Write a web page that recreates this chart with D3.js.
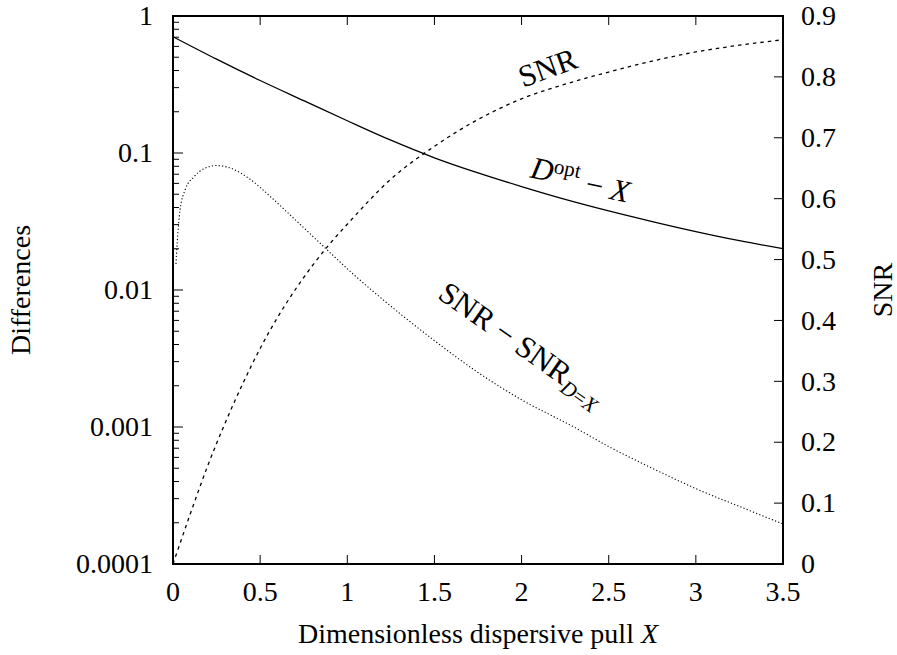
<!DOCTYPE html>
<html>
<head>
<meta charset="utf-8">
<script src="https://cdn.jsdelivr.net/npm/d3@7"></script>
<style>
  body { margin: 0; background: #fff; }
  svg text { font-family: "Liberation Serif", "DejaVu Serif", serif; fill: #000; }
</style>
</head>
<body>
<svg id="chart" width="897" height="655"></svg>
<script>
// x axis
var xTicks = [0, 0.5, 1, 1.5, 2, 2.5, 3, 3.5]
// left axis (log) and right axis (linear)
var yTicks = [1, 0.1, 0.01, 0.001, 0.0001]
var yTickLabels = ['1', '0.1', '0.01', '0.001', '0.0001']
var y2Ticks = [0, 0.1, 0.2, 0.3, 0.4, 0.5, 0.6, 0.7, 0.8, 0.9]

// D^opt - X  (left axis)
var doptX = [0, 0.25, 0.5, 0.75, 1, 1.25, 1.5, 1.75, 2, 2.25, 2.5, 2.75, 3, 3.25, 3.5]
var doptY = [0.706, 0.484, 0.338, 0.241, 0.172, 0.124, 0.0923, 0.0716, 0.0569, 0.0459, 0.0378, 0.0316, 0.0267, 0.0229, 0.0200]

// SNR - SNR_{D=X}  (left axis)
var diffX = [0.017, 0.025, 0.04, 0.07, 0.12, 0.18, 0.25, 0.33, 0.44, 0.56, 0.67, 0.85, 1.0, 1.3, 1.5, 1.75, 2.0, 2.3, 2.5, 2.75, 3.0, 3.25, 3.5]
var diffY = [0.0155, 0.023, 0.038, 0.054, 0.067, 0.077, 0.081, 0.0776, 0.0646, 0.0479, 0.0355, 0.0216, 0.0143, 0.00676, 0.00427, 0.0025, 0.00158, 0.0010, 0.00072, 0.0005, 0.000355, 0.000263, 0.000196]

// SNR  (right axis)
var snrX = [0, 0.1, 0.2, 0.3, 0.4, 0.5, 0.6, 0.7, 0.8, 0.9, 1.0, 1.25, 1.5, 1.75, 2.0, 2.25, 2.5, 2.75, 3.0, 3.25, 3.5]
var snrY = [0, 0.083, 0.162, 0.232, 0.296, 0.354, 0.405, 0.45, 0.49, 0.526, 0.558, 0.632, 0.686, 0.73, 0.764, 0.788, 0.808, 0.826, 0.841, 0.852, 0.861]

var svg = d3.select('#chart'),
  mLeft = 173, mTop = 16, width = 610, height = 548,
  g = svg.append('g').attr('transform', 'translate(' + mLeft + ',' + mTop + ')')

var x = d3.scaleLinear().domain([0, 3.5]).range([0, width])
var y = d3.scaleLog().domain([0.0001, 1]).range([height, 0])
var y2 = d3.scaleLinear().domain([0, 0.9]).range([height, 0])

var fontSize = 28

// minor log ticks
var minor = []
yTicks.slice(1).forEach(function (t) {
  for (var k = 2; k <= 9; k++) minor.push(t * k)
})

g.selectAll('.minor').data(minor).enter().append('line')
  .attr('x1', 0).attr('x2', 6)
  .attr('y1', function (d) { return y(d) }).attr('y2', function (d) { return y(d) })
  .attr('stroke', '#000').attr('stroke-width', 1)

g.selectAll('.ymaj').data(yTicks).enter().append('line')
  .attr('x1', 0).attr('x2', 10)
  .attr('y1', function (d) { return y(d) }).attr('y2', function (d) { return y(d) })
  .attr('stroke', '#000').attr('stroke-width', 1)

g.selectAll('.ylab').data(yTicks).enter().append('text')
  .attr('x', -20).attr('y', function (d) { return y(d) }).attr('dy', '0.33em')
  .attr('text-anchor', 'end').style('font-size', fontSize + 'px')
  .text(function (d, i) { return yTickLabels[i] })

g.selectAll('.y2maj').data(y2Ticks).enter().append('line')
  .attr('x1', width - 9).attr('x2', width)
  .attr('y1', function (d) { return y2(d) }).attr('y2', function (d) { return y2(d) })
  .attr('stroke', '#000').attr('stroke-width', 1)

g.selectAll('.y2lab').data(y2Ticks).enter().append('text')
  .attr('x', width + 18).attr('y', function (d) { return y2(d) }).attr('dy', '0.33em')
  .style('font-size', fontSize + 'px')
  .text(function (d) { return d3.format('')(d) })

// x ticks bottom + top
g.selectAll('.xb').data(xTicks).enter().append('line')
  .attr('x1', function (d) { return x(d) }).attr('x2', function (d) { return x(d) })
  .attr('y1', height).attr('y2', height - 9)
  .attr('stroke', '#000').attr('stroke-width', 1)
g.selectAll('.xt').data(xTicks).enter().append('line')
  .attr('x1', function (d) { return x(d) }).attr('x2', function (d) { return x(d) })
  .attr('y1', 0).attr('y2', 9)
  .attr('stroke', '#000').attr('stroke-width', 1)

g.selectAll('.xlab').data(xTicks).enter().append('text')
  .attr('x', function (d) { return x(d) }).attr('y', height + 37)
  .attr('text-anchor', 'middle').style('font-size', fontSize + 'px')
  .text(function (d) { return d3.format('')(d) })

// curves
var lineLeft = d3.line()
  .x(function (d) { return x(d[0]) })
  .y(function (d) { return y(d[1]) })
  .curve(d3.curveMonotoneX)
var lineRight = d3.line()
  .x(function (d) { return x(d[0]) })
  .y(function (d) { return y2(d[1]) })
  .curve(d3.curveMonotoneX)

g.append('path')
  .attr('d', lineLeft(d3.zip(doptX, doptY)))
  .attr('fill', 'none').attr('stroke', '#000').attr('stroke-width', 1.3)

g.append('path')
  .attr('d', lineLeft(d3.zip(diffX, diffY)))
  .attr('fill', 'none').attr('stroke', '#000').attr('stroke-width', 1.1)
  .attr('stroke-dasharray', '1.2,2.2')

g.append('path')
  .attr('d', lineRight(d3.zip(snrX, snrY)))
  .attr('fill', 'none').attr('stroke', '#000').attr('stroke-width', 1.3)
  .attr('stroke-dasharray', '3.5,4')

// frame
g.append('rect').attr('width', width).attr('height', height)
  .attr('fill', 'none').attr('stroke', '#000').attr('stroke-width', 2)

// curve labels
g.append('text')
  .attr('transform', 'translate(' + x(2.15) + ',' + y2(0.815) + ') rotate(-20)')
  .attr('text-anchor', 'middle').attr('dy', '0.33em')
  .style('font-size', '31px')
  .text('SNR')

var dLab = g.append('text')
  .attr('transform', 'translate(' + x(2.34) + ',' + y(0.066) + ') rotate(12)')
  .attr('text-anchor', 'middle').attr('dy', '0.33em')
  .style('font-size', '31px')
dLab.append('tspan').style('font-style', 'italic').text('D')
dLab.append('tspan').attr('dy', '-0.45em').style('font-size', '21px').style('font-style', 'normal').text('opt')
dLab.append('tspan').attr('dy', '0.45em').text(' − ')
dLab.append('tspan').style('font-style', 'italic').text('X')

var sLab = g.append('text')
  .attr('transform', 'translate(' + x(2.0) + ',' + y(0.004) + ') rotate(35)')
  .attr('text-anchor', 'middle').attr('dy', '0.33em')
  .style('font-size', '31px')
sLab.append('tspan').text('SNR − SNR')
sLab.append('tspan').attr('dy', '0.3em').style('font-size', '21px').style('font-style', 'italic').text('D')
sLab.append('tspan').style('font-size', '21px').text('=')
sLab.append('tspan').style('font-size', '21px').style('font-style', 'italic').text('X')

// axis titles
svg.append('text')
  .attr('transform', 'translate(' + 30 + ',' + (mTop + height / 2) + ') rotate(-90)')
  .attr('text-anchor', 'middle').style('font-size', fontSize + 'px')
  .text('Differences')

svg.append('text')
  .attr('transform', 'translate(' + 892 + ',' + (mTop + height / 2) + ') rotate(-90)')
  .attr('text-anchor', 'middle').style('font-size', fontSize + 'px')
  .text('SNR')

var xt = svg.append('text')
  .attr('x', mLeft + width / 2).attr('y', 643)
  .attr('text-anchor', 'middle').style('font-size', fontSize + 'px')
xt.append('tspan').text('Dimensionless dispersive pull ')
xt.append('tspan').style('font-style', 'italic').text('X')
</script>
</body>
</html>
